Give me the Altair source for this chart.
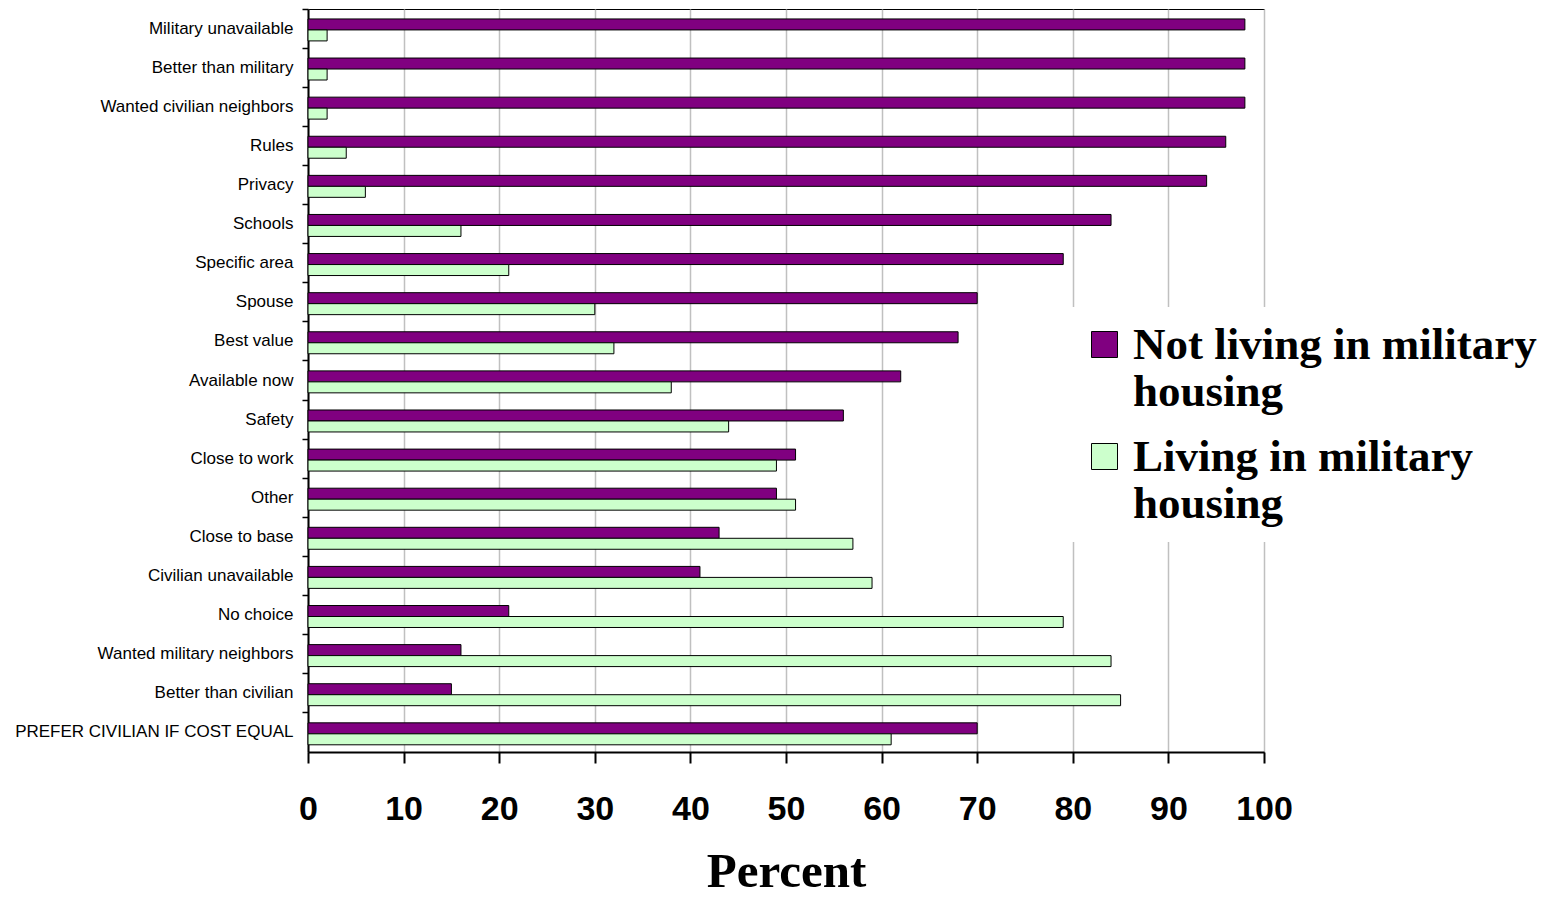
import altair as alt
import pandas as pd

categories = [
    "Military unavailable", "Better than military", "Wanted civilian neighbors",
    "Rules", "Privacy", "Schools", "Specific area", "Spouse", "Best value",
    "Available now", "Safety", "Close to work", "Other", "Close to base",
    "Civilian unavailable", "No choice", "Wanted military neighbors",
    "Better than civilian", "PREFER CIVILIAN IF COST EQUAL",
]
not_living = [98, 98, 98, 96, 94, 84, 79, 70, 68, 62, 56, 51, 49, 43, 41, 21, 16, 15, 70]
living = [2, 2, 2, 4, 6, 16, 21, 30, 32, 38, 44, 49, 51, 57, 59, 79, 84, 85, 61]
series = ["Not living in military housing", "Living in military housing"]
colors = ["#800080", "#CCFFCC"]
x_ticks = [0, 10, 20, 30, 40, 50, 60, 70, 80, 90, 100]

rows = []
for c, a, b in zip(categories, not_living, living):
    rows.append({"category": c, "series": series[0], "value": a})
    rows.append({"category": c, "series": series[1], "value": b})
df = pd.DataFrame(rows)

split_expr = ("[slice(datum.label, 0, lastindexof(datum.label, ' ')), "
              "slice(datum.label, lastindexof(datum.label, ' ') + 1)]")

chart = alt.Chart(df).mark_bar(stroke="black", strokeWidth=1).encode(
    x=alt.X(
        "value:Q",
        scale=alt.Scale(domain=[0, 100], nice=False),
        axis=alt.Axis(
            values=x_ticks, title="Percent", grid=True, gridColor="#c0c0c0", gridWidth=1.5,
            domainColor="black", domainWidth=2, tickColor="black", tickWidth=2, tickSize=11,
            labelFont="Liberation Sans", labelFontSize=34, labelFontWeight="bold",
            labelColor="black", labelPadding=29, labelFlush=False, labelBound=False,
            labelOverlap=False,
            titleFont="Liberation Serif", titleFontSize=49, titleFontWeight="bold",
            titleColor="black", titlePadding=21,
        ),
    ),
    y=alt.Y(
        "category:N", sort=categories,
        scale=alt.Scale(paddingInner=0, paddingOuter=0),
        axis=alt.Axis(
            title=None, grid=False, domainColor="black", domainWidth=2,
            tickColor="black", tickWidth=1.5, tickSize=6, bandPosition=0,
            labelFont="Liberation Sans", labelFontSize=17, labelColor="black",
            labelPadding=9, labelLimit=400,
        ),
    ),
    yOffset=alt.YOffset(
        "series:N", sort=series,
        scale=alt.Scale(paddingInner=0, paddingOuter=0.78, align=0.58),
    ),
    color=alt.Color(
        "series:N", sort=series,
        scale=alt.Scale(domain=series, range=colors),
        legend=alt.Legend(
            title=None, orient="none", legendX=759, legendY=298,
            fillColor="white", padding=15, rowPadding=19,
            symbolType="square", symbolSize=676, symbolStrokeColor="black",
            symbolStrokeWidth=1, symbolOpacity=1,
            labelFont="Liberation Serif", labelFontSize=45, labelFontWeight="bold",
            labelColor="black", labelOffset=6, labelLimit=0, labelBaseline="middle",
            labelExpr=split_expr,
        ),
    ),
).properties(
    width=956, height=743, autosize="none",
    padding={"left": 300, "top": 1, "right": 275, "bottom": 155},
).configure_view(stroke="black", strokeWidth=1)

chart.save("out.html", embed_options={"renderer": "svg", "actions": False})
